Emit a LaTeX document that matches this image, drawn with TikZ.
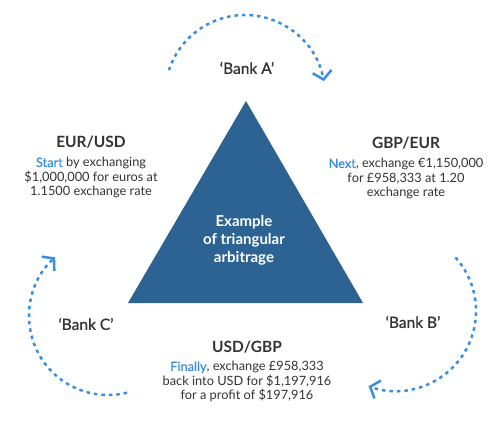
\documentclass[tikz,border=0pt]{standalone}
\usepackage{fontspec}
\setmainfont{Lato}
\usepackage{xcolor}
\usetikzlibrary{arrows.meta,positioning,calc}
\definecolor{tribl}{HTML}{2D6392}
\definecolor{dotbl}{HTML}{3B8DDE}
\definecolor{txtgr}{HTML}{333333}
\newcommand{\lead}[1]{\textcolor{dotbl}{\addfontfeatures{FakeBold=0.6}#1}}

\begin{document}
\begin{tikzpicture}[x=1pt,y=1pt,
  pair/.style={font=\fontsize{15.5}{18}\selectfont\bfseries,text=txtgr,inner sep=0pt},
  desc/.style={font=\fontsize{12.8}{14.5}\selectfont,text=txtgr,align=center,inner sep=0pt},
  bank/.style={font=\fontsize{15.5}{18}\selectfont\addfontfeatures{FakeBold=0.8},text=txtgr,inner sep=0pt},
  swing/.style={dotbl,line width=2.5pt,dash pattern=on 3.5pt off 4pt,
    -{Straight Barb[length=8pt,width=19pt,line width=2.5pt]}}
]
\useasboundingbox (0,0) rectangle (500,426);

% triangle
\coordinate (apex) at (246,325);
\coordinate (baseL) at (128,123);
\coordinate (baseR) at (363,123);
\fill[tribl] (apex) -- (baseR) -- (baseL) -- cycle;
\node[align=center,text=white,font=\fontsize{15}{18}\selectfont\bfseries] (core) at (244,186) {Example\\of triangular\\arbitrage};

% currency pairs
\node[pair] (eurusd) at (91,284) {EUR/USD};
\node[desc,below=9pt of eurusd] (eurusdtxt) {\lead{Start} by exchanging\\\$1,000,000 for euros at\\1.1500 exchange rate};
\node[pair] (gbpeur) at (406,283) {GBP/EUR};
\node[desc,below=9pt of gbpeur] (gbpeurtxt) {\lead{Next}, exchange €1,150,000\\for £958,333 at 1.20\\exchange rate};
\node[pair] (usdgbp) at (247,79) {USD/GBP};
\node[desc,below=8pt of usdgbp] (usdgbptxt) {\lead{Finally}, exchange £958,333\\back into USD for \$1,197,916\\for a profit of \$197,916};

% banks
\node[bank] (bankA) at (247,358) {‘Bank A’};
\node[bank] (bankB) at (413,104) {‘Bank B’};
\node[bank] (bankC) at (86,102) {‘Bank C’};

% dotted turns
\coordinate (swA) at ($(245,331)+(162:80)$);
\coordinate (swB) at ($(396,115)+(42:80)$);
\coordinate (swC) at ($(108,110)+(-76:79)$);
\draw[swing] (swA) arc[start angle=162,end angle=10,radius=80];
\draw[swing] (swB) arc[start angle=42,end angle=-110,radius=80];
\draw[swing] (swC) arc[start angle=-76,end angle=-228,radius=79];
\end{tikzpicture}
\end{document}
